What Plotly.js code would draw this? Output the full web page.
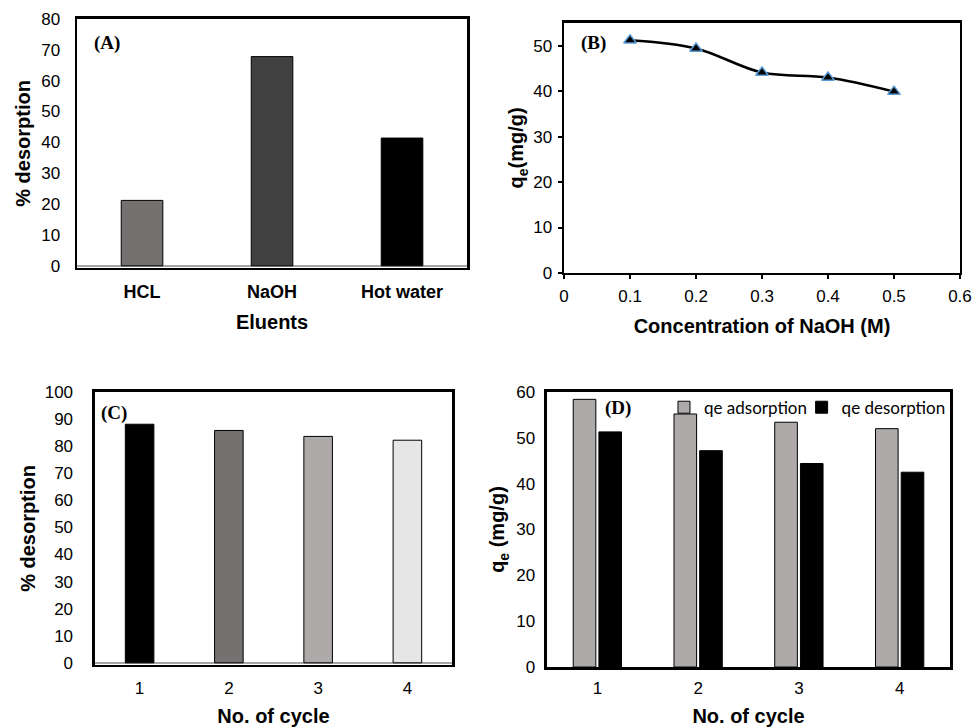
<!DOCTYPE html>
<html>
<head>
<meta charset="utf-8">
<script src="https://cdn.plot.ly/plotly-3.0.1.min.js"></script>
<style>html,body{margin:0;padding:0;background:#fff;}#chart{width:974px;height:727px;}</style>
</head>
<body>
<div id="chart"></div>
<script>
// Panel A
const eluents = ["HCL", "NaOH", "Hot water"];
const eluentDesorption = [21.2, 67.8, 41.4];
const eluentColors = ["#767171", "#404040", "#000000"];
// Panel B
const naohConc = [0.1, 0.2, 0.3, 0.4, 0.5];
const naohQe = [51.2, 49.4, 44.1, 43.0, 39.9];
// Panel C
const cycles = ["1", "2", "3", "4"];
const cycleDesorption = [88.1, 85.8, 83.6, 82.2];
const cycleColors = ["#000000", "#767171", "#AEAAAA", "#E7E6E6"];
// Panel D
const qeAdsorption = [58.4, 55.2, 53.4, 52.0];
const qeDesorption = [51.3, 47.2, 44.4, 42.5];

const F = "Liberation Sans, Arial, sans-serif";
const tickFont = {family: F, size: 17, color: "#000"};
const titleFont = {family: F, size: 20, color: "#000", weight: "bold"};
const serif = "Liberation Serif, Times New Roman, serif";
const legendFont = {family: "Lato, sans-serif", size: 17, color: "#000"};

const traces = [
  {type: "bar", x: eluents, y: eluentDesorption, xaxis: "x", yaxis: "y",
   marker: {color: eluentColors, line: {color: "#000", width: 1}}, width: 0.32, showlegend: false},
  {type: "scatter", mode: "lines+markers", x: naohConc, y: naohQe, xaxis: "x2", yaxis: "y2",
   line: {color: "#000", width: 2.5, shape: "spline", smoothing: 1},
   marker: {symbol: "triangle-up", size: 11, color: "#000", line: {color: "#5B9BD5", width: 1.5}}, showlegend: false},
  {type: "bar", x: cycles, y: cycleDesorption, xaxis: "x3", yaxis: "y3",
   marker: {color: cycleColors, line: {color: "#000", width: 1}}, width: 0.32, showlegend: false},
  {type: "bar", name: "qe adsorption", x: cycles, y: qeAdsorption, xaxis: "x4", yaxis: "y4",
   marker: {color: "#AEAAAA", line: {color: "#000", width: 1}}, legend: "legend"},
  {type: "bar", name: "qe desorption", x: cycles, y: qeDesorption, xaxis: "x4", yaxis: "y4",
   marker: {color: "#000000", line: {color: "#000", width: 1}}, legend: "legend2"}
];

function frameAxis(extra) {
  return Object.assign({showline: true, linecolor: "#000", linewidth: 2.5, mirror: true,
    showgrid: false, zeroline: false, tickfont: tickFont, ticks: ""}, extra);
}

const layout = {
  width: 974, height: 727,
  margin: {l: 0, r: 0, t: 0, b: 0},
  paper_bgcolor: "#fff", plot_bgcolor: "#fff",
  font: {family: F, color: "#000"},
  barmode: "group", bargap: 0.49, bargroupgap: 0.12,
  xaxis: frameAxis({domain: [0.0791, 0.4795], anchor: "y", type: "category", ticklabelstandoff: 6,
    tickfont: {family: F, size: 18, color: "#000", weight: "bold"},
    title: {text: "Eluents", font: titleFont, standoff: 14}}),
  yaxis: frameAxis({domain: [0.6314, 0.9739], anchor: "x", range: [-0.7, 80], dtick: 10, ticklabelstandoff: 11,
    zeroline: true, zerolinecolor: "#A6A6A6", zerolinewidth: 2.5,
    title: {text: "% desorption", font: titleFont, standoff: 5}}),
  xaxis2: frameAxis({domain: [0.5791, 0.9856], anchor: "y2", range: [0, 0.6], dtick: 0.1,
    ticks: "outside", ticklen: 4, tickwidth: 2, tickcolor: "#000", ticklabelstandoff: 2,
    title: {text: "Concentration of NaOH (M)", font: titleFont, standoff: 14}}),
  yaxis2: frameAxis({domain: [0.6245, 0.9684], anchor: "x2", range: [0, 55], tickvals: [0,10,20,30,40,50],
    ticks: "outside", ticklen: 4, tickwidth: 2, tickcolor: "#000", ticklabelstandoff: 2,
    title: {text: "q<sub>e</sub>(mg/g)", font: titleFont, standoff: 4}}),
  xaxis3: frameAxis({domain: [0.0975, 0.4641], anchor: "y3", type: "category", ticklabelstandoff: 6,
    title: {text: "No. of cycle", font: titleFont, standoff: 15}}),
  yaxis3: frameAxis({domain: [0.0853, 0.4608], anchor: "x3", range: [-0.8, 100], dtick: 10, ticklabelstandoff: 16,
    zeroline: true, zerolinecolor: "#A6A6A6", zerolinewidth: 2.5,
    title: {text: "% desorption", font: titleFont, standoff: 4}}),
  xaxis4: frameAxis({domain: [0.5616, 0.9754], anchor: "y4", type: "category", ticklabelstandoff: 4,
    title: {text: "No. of cycle", font: titleFont, standoff: 16}}),
  yaxis4: frameAxis({domain: [0.0825, 0.4608], anchor: "x4", range: [0, 60], dtick: 10, ticklabelstandoff: 6,
    title: {text: "q<sub>e</sub> (mg/g)", font: titleFont, standoff: 6}}),
  legend: {orientation: "h", x: 0.6817, xanchor: "left", y: 0.464, yanchor: "top",
    bgcolor: "rgba(0,0,0,0)", font: legendFont, itemwidth: 30},
  legend2: {orientation: "h", x: 0.976, xanchor: "right", y: 0.464, yanchor: "top",
    bgcolor: "rgba(0,0,0,0)", font: legendFont, itemwidth: 30},
  annotations: [
    {text: "<b>(A)</b>", xref: "x domain", yref: "y domain", x: 0.038, y: 0.904, xanchor: "left", yanchor: "middle",
     showarrow: false, font: {family: serif, size: 19, color: "#000"}},
    {text: "<b>(B)</b>", xref: "x2 domain", yref: "y2 domain", x: 0.038, y: 0.92, xanchor: "left", yanchor: "middle",
     showarrow: false, font: {family: serif, size: 19, color: "#000"}},
    {text: "<b>(C)</b>", xref: "x3 domain", yref: "y3 domain", x: 0.012, y: 0.923, xanchor: "left", yanchor: "middle",
     showarrow: false, font: {family: serif, size: 19, color: "#000"}},
    {text: "<b>(D)</b>", xref: "x4 domain", yref: "y4 domain", x: 0.139, y: 0.94, xanchor: "left", yanchor: "middle",
     showarrow: false, font: {family: serif, size: 19, color: "#000"}}
  ]
};

Plotly.newPlot("chart", traces, layout, {displayModeBar: false, staticPlot: true});
</script>
</body>
</html>
